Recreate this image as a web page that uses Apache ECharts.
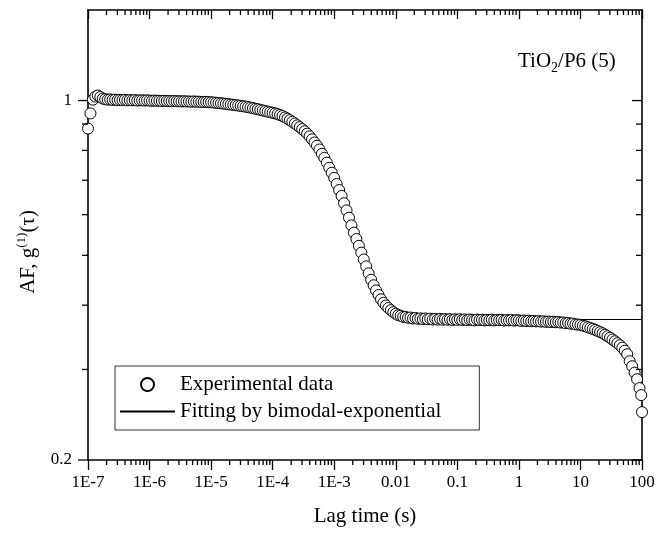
<!DOCTYPE html>
<html>
<head>
<meta charset="utf-8">
<script src="https://cdn.jsdelivr.net/npm/echarts@6/dist/echarts.min.js"></script>
<style>
  html, body { margin: 0; padding: 0; background: #fff; }
  #chart { width: 656px; height: 534px; }
</style>
</head>
<body>
<div id="chart"></div>
<script>
// Correlator lag times (s), one decade per row
const lagTime = [
  1.000e-7, 1.096e-7, 1.202e-7, 1.318e-7, 1.445e-7, 1.585e-7, 1.738e-7, 1.905e-7, 2.089e-7, 2.291e-7, 2.512e-7, 2.754e-7, 3.020e-7, 3.311e-7, 3.631e-7, 3.981e-7, 4.365e-7, 4.786e-7, 5.248e-7, 5.754e-7, 6.310e-7, 6.918e-7, 7.586e-7, 8.318e-7, 9.120e-7,
  1.000e-6, 1.096e-6, 1.202e-6, 1.318e-6, 1.445e-6, 1.585e-6, 1.738e-6, 1.905e-6, 2.089e-6, 2.291e-6, 2.512e-6, 2.754e-6, 3.020e-6, 3.311e-6, 3.631e-6, 3.981e-6, 4.365e-6, 4.786e-6, 5.248e-6, 5.754e-6, 6.310e-6, 6.918e-6, 7.586e-6, 8.318e-6, 9.120e-6,
  1.000e-5, 1.096e-5, 1.202e-5, 1.318e-5, 1.445e-5, 1.585e-5, 1.738e-5, 1.905e-5, 2.089e-5, 2.291e-5, 2.512e-5, 2.754e-5, 3.020e-5, 3.311e-5, 3.631e-5, 3.981e-5, 4.365e-5, 4.786e-5, 5.248e-5, 5.754e-5, 6.310e-5, 6.918e-5, 7.586e-5, 8.318e-5, 9.120e-5,
  1.000e-4, 1.096e-4, 1.202e-4, 1.318e-4, 1.445e-4, 1.585e-4, 1.738e-4, 1.905e-4, 2.089e-4, 2.291e-4, 2.512e-4, 2.754e-4, 3.020e-4, 3.311e-4, 3.631e-4, 3.981e-4, 4.365e-4, 4.786e-4, 5.248e-4, 5.754e-4, 6.310e-4, 6.918e-4, 7.586e-4, 8.318e-4, 9.120e-4,
  1.000e-3, 1.096e-3, 1.202e-3, 1.318e-3, 1.445e-3, 1.585e-3, 1.738e-3, 1.905e-3, 2.089e-3, 2.291e-3, 2.512e-3, 2.754e-3, 3.020e-3, 3.311e-3, 3.631e-3, 3.981e-3, 4.365e-3, 4.786e-3, 5.248e-3, 5.754e-3, 6.310e-3, 6.918e-3, 7.586e-3, 8.318e-3, 9.120e-3,
  1.000e-2, 1.096e-2, 1.202e-2, 1.318e-2, 1.445e-2, 1.585e-2, 1.738e-2, 1.905e-2, 2.089e-2, 2.291e-2, 2.512e-2, 2.754e-2, 3.020e-2, 3.311e-2, 3.631e-2, 3.981e-2, 4.365e-2, 4.786e-2, 5.248e-2, 5.754e-2, 6.310e-2, 6.918e-2, 7.586e-2, 8.318e-2, 9.120e-2,
  1.000e-1, 1.096e-1, 1.202e-1, 1.318e-1, 1.445e-1, 1.585e-1, 1.738e-1, 1.905e-1, 2.089e-1, 2.291e-1, 2.512e-1, 2.754e-1, 3.020e-1, 3.311e-1, 3.631e-1, 3.981e-1, 4.365e-1, 4.786e-1, 5.248e-1, 5.754e-1, 6.310e-1, 6.918e-1, 7.586e-1, 8.318e-1, 9.120e-1,
  1.000, 1.096, 1.202, 1.318, 1.445, 1.585, 1.738, 1.905, 2.089, 2.291, 2.512, 2.754, 3.020, 3.311, 3.631, 3.981, 4.365, 4.786, 5.248, 5.754, 6.310, 6.918, 7.586, 8.318, 9.120,
  10.00, 10.96, 12.02, 13.18, 14.45, 15.85, 17.38, 19.05, 20.89, 22.91, 25.12, 27.54, 30.20, 33.11, 36.31, 39.81, 43.65, 47.86, 52.48, 57.54, 63.10, 69.18, 75.86, 83.18, 91.20, 97.0, 100
];

// Measured field autocorrelation g(1)(tau), same layout as lagTime
const g1Measured = [
  0.882, 0.944, 1.004, 1.018, 1.023, 1.016, 1.009, 1.006, 1.004, 1.005, 1.003, 1.004, 1.002, 1.003, 1.002, 1.003, 1.001, 1.002, 1.001, 1.002, 1.000, 1.001, 1.001, 1.000, 1.001,
  1.000, 0.999, 1.000, 0.999, 0.999, 0.998, 0.999, 0.998, 0.998, 0.997, 0.998, 0.997, 0.997, 0.996, 0.997, 0.996, 0.996, 0.995, 0.996, 0.995, 0.995, 0.994, 0.994, 0.994, 0.993,
  0.9924, 0.9913, 0.9902, 0.9891, 0.9880, 0.9867, 0.9854, 0.9840, 0.9823, 0.9810, 0.9796, 0.9781, 0.9766, 0.9748, 0.9731, 0.9709, 0.9688, 0.9666, 0.9640, 0.9619, 0.9593, 0.9567, 0.9541, 0.9516, 0.9490,
  0.9469, 0.9442, 0.9410, 0.9372, 0.9330, 0.9276, 0.9221, 0.9159, 0.9092, 0.9023, 0.8950, 0.8877, 0.8800, 0.8717, 0.8624, 0.8521, 0.8407, 0.8288, 0.8170, 0.8033, 0.7880, 0.7737, 0.7572, 0.7402, 0.7238,
  0.7072, 0.6884, 0.6699, 0.6525, 0.6315, 0.6115, 0.5919, 0.5718, 0.5535, 0.5379, 0.5218, 0.5061, 0.4908, 0.4761, 0.4614, 0.4482, 0.4373, 0.4274, 0.4186, 0.4108, 0.4044, 0.3995, 0.3949, 0.3912, 0.3877,
  0.3850, 0.3825, 0.3815, 0.3796, 0.3795, 0.3781, 0.3785, 0.3769, 0.3777, 0.3763, 0.3771, 0.3758, 0.3769, 0.3756, 0.3766, 0.3752, 0.3763, 0.3750, 0.3761, 0.3749, 0.3759, 0.3747, 0.3757, 0.3745, 0.3755,
  0.3746, 0.3757, 0.3744, 0.3753, 0.3741, 0.3752, 0.3745, 0.3737, 0.3750, 0.3742, 0.3748, 0.3738, 0.3746, 0.3740, 0.3749, 0.3736, 0.3744, 0.3739, 0.3746, 0.3734, 0.3742, 0.3737, 0.3743, 0.3733, 0.3740,
  0.3737, 0.3728, 0.3735, 0.3726, 0.3732, 0.3723, 0.3728, 0.3720, 0.3725, 0.3716, 0.3722, 0.3713, 0.3718, 0.3710, 0.3715, 0.3706, 0.3710, 0.3700, 0.3703, 0.3691, 0.3693, 0.3682, 0.3684, 0.3671, 0.3668,
  0.3662, 0.3650, 0.3639, 0.3624, 0.3611, 0.3598, 0.3582, 0.3563, 0.3546, 0.3528, 0.3506, 0.3481, 0.3457, 0.3430, 0.3404, 0.3374, 0.3344, 0.3307, 0.3263, 0.3212, 0.3113, 0.3044, 0.2957, 0.2872, 0.2759, 0.2674, 0.2478
];

// Bimodal-exponential fit curve
const fitTime = [1e-7, 1e-6, 1e-5, 3.02e-5, 1e-4, 1.445e-4, 2.089e-4, 3.02e-4, 4.365e-4, 5.248e-4, 6.31e-4, 7.586e-4, 9.12e-4,
  1e-3, 1.202e-3, 1.445e-3, 1.738e-3, 2.089e-3, 2.512e-3, 3.02e-3, 3.631e-3, 4.365e-3, 5.248e-3, 6.31e-3, 7.586e-3, 9.12e-3,
  1e-2, 1.202e-2, 1.445e-2, 1.738e-2, 2.512e-2, 4.365e-2, 0.1, 1, 10, 100];
const fitG = [1.000, 0.9995, 0.9924, 0.9766, 0.9469, 0.9330, 0.9092, 0.8800, 0.8407, 0.8170, 0.7880, 0.7572, 0.7238,
  0.7072, 0.6699, 0.6315, 0.5919, 0.5535, 0.5218, 0.4908, 0.4614, 0.4373, 0.4186, 0.4044, 0.3949, 0.3877,
  0.3850, 0.3812, 0.3792, 0.3780, 0.3768, 0.3760, 0.3757, 0.3753, 0.3752, 0.3752];

// Axis ticks and labels
const xTickValues = [1e-7, 1e-6, 1e-5, 1e-4, 1e-3, 0.01, 0.1, 1, 10, 100];
const xTickLabels = ['1E-7', '1E-6', '1E-5', '1E-4', '1E-3', '0.01', '0.1', '1', '10', '100'];
const yTickValues = [0.2, 1];
const yTickLabels = ['0.2', '1'];
const yMinorTicks = [0.3, 0.4, 0.5, 0.6, 0.7, 0.8, 0.9];
const minorSteps = [2, 3, 4, 5, 6, 7, 8, 9];

const X_MIN = 1e-7, X_MAX = 100, Y_MIN = 0.2, Y_MAX = 1.5;
const FONT = '"Liberation Serif", "Times New Roman", serif';
const INK = '#000';

function sameLog(a, b) { return Math.abs(Math.log10(a) - Math.log10(b)) < 1e-6; }
function labelFor(v, values, labels) {
  for (let i = 0; i < values.length; i++) if (sameLog(v, values[i])) return labels[i];
  return '';
}

// Minor ticks of the log x axis (2..9 within every decade)
const xMinorTicks = [];
xTickValues.slice(0, -1).forEach(d => minorSteps.forEach(s => xMinorTicks.push(d * s)));

const measured = lagTime.map((t, i) => [t, g1Measured[i]]);
const fitted = fitTime.map((t, i) => [t, fitG[i]]);

const tickStyle = { stroke: INK, lineWidth: 1.3 };

const chart = echarts.init(document.getElementById('chart'), null, { renderer: 'canvas' });

const baseXAxis = {
  type: 'log', logBase: 10, min: X_MIN, max: X_MAX,
  splitLine: { show: false }, minorTick: { show: false },
  axisLine: { show: true, onZero: false, lineStyle: { color: INK, width: 1.6 } }
};
const baseYAxis = {
  type: 'log', logBase: 10, min: Y_MIN, max: Y_MAX,
  splitLine: { show: false }, minorTick: { show: false },
  axisTick: { show: false },
  axisLine: { show: true, onZero: false, lineStyle: { color: INK, width: 1.6 } }
};

const option = {
  animation: false,
  backgroundColor: '#fff',
  textStyle: { fontFamily: FONT, color: INK },
  grid: { left: 88, right: 14, top: 10, bottom: 74, containLabel: false, outerBoundsMode: 'none' },
  legend: {
    orient: 'vertical', left: 115, top: 366,
    itemWidth: 55, itemHeight: 13, itemGap: 6,
    padding: [8, 38, 8, 4],
    borderColor: '#333', borderWidth: 1,
    selectedMode: false,
    textStyle: { fontFamily: FONT, fontSize: 21, color: INK },
    data: ['Experimental data', 'Fitting by bimodal-exponential']
  },
  xAxis: [
    Object.assign({}, baseXAxis, {
      position: 'bottom',
      axisTick: { show: true, inside: false, length: 10, lineStyle: { color: INK, width: 1.3 } },
      axisLabel: {
        show: true, margin: 14, fontFamily: FONT, fontSize: 17, color: INK,
        formatter: v => labelFor(v, xTickValues, xTickLabels)
      },
      name: 'Lag time (s)', nameLocation: 'middle', nameGap: 46,
      nameTextStyle: { fontFamily: FONT, fontSize: 21, color: INK }
    }),
    Object.assign({}, baseXAxis, {
      position: 'top',
      axisTick: { show: true, inside: true, length: 9, lineStyle: { color: INK, width: 1.3 } },
      axisLabel: { show: false }
    })
  ],
  yAxis: [
    Object.assign({}, baseYAxis, {
      position: 'left',
      axisLabel: {
        show: true, margin: 16, fontFamily: FONT, fontSize: 17, color: INK,
        showMinLabel: true, showMaxLabel: true,
        formatter: v => labelFor(v, yTickValues, yTickLabels)
      }
    }),
    Object.assign({}, baseYAxis, {
      position: 'right',
      axisLabel: { show: false }
    })
  ],
  graphic: [
    {
      type: 'text', x: 27, y: 252, rotation: Math.PI / 2, z: 10,
      style: {
        text: '{b|AF, g}{s|(1)}{b|(τ)}',
        align: 'center', verticalAlign: 'middle', fill: INK,
        rich: {
          b: { fontFamily: FONT, fontSize: 21, lineHeight: 24, verticalAlign: 'bottom', fill: INK },
          s: { fontFamily: FONT, fontSize: 13, lineHeight: 13, verticalAlign: 'top', fill: INK }
        }
      }
    },
    {
      type: 'text', x: 518, y: 62, z: 10,
      style: {
        text: '{b|TiO}{s|2}{b|/P6 (5)}',
        align: 'left', verticalAlign: 'middle', fill: INK,
        rich: {
          b: { fontFamily: FONT, fontSize: 21, lineHeight: 22, verticalAlign: 'top', fill: INK },
          s: { fontFamily: FONT, fontSize: 14, lineHeight: 14, padding: [10, 0, 0, 0], verticalAlign: 'top', fill: INK }
        }
      }
    }
  ],
  series: [
    {
      name: 'Fitting by bimodal-exponential',
      type: 'line', xAxisIndex: 0, yAxisIndex: 0,
      data: fitted, symbol: 'none', smooth: false, z: 1,
      lineStyle: { color: INK, width: 1 },
      // the fit has no markers, so keep the legend marker invisible too
      itemStyle: { color: 'rgba(0,0,0,0)', borderColor: 'rgba(0,0,0,0)', borderWidth: 0 }
    },
    {
      name: 'Experimental data',
      type: 'scatter', xAxisIndex: 0, yAxisIndex: 0,
      data: measured, symbol: 'circle', symbolSize: 11, z: 3,
      itemStyle: { color: '#fff', borderColor: INK, borderWidth: 1, opacity: 1 }
    },
    {
      // minor ticks along the bottom (outward) and top (inward) frame
      type: 'custom', xAxisIndex: 0, yAxisIndex: 0, silent: true, z: 6,
      data: xMinorTicks.map(t => [t, Y_MIN]),
      renderItem: function (params, api) {
        const cs = params.coordSys;
        const x = api.coord([api.value(0), Y_MIN])[0];
        const yb = cs.y + cs.height;
        return {
          type: 'group', children: [
            { type: 'line', shape: { x1: x, y1: yb, x2: x, y2: yb + 5 }, style: tickStyle },
            { type: 'line', shape: { x1: x, y1: cs.y, x2: x, y2: cs.y + 5 }, style: tickStyle }
          ]
        };
      }
    },
    {
      // ticks along the left (outward) and right (inward) frame
      type: 'custom', xAxisIndex: 0, yAxisIndex: 0, silent: true, z: 6,
      data: yTickValues.concat(yMinorTicks).map(v => [X_MIN, v]),
      renderItem: function (params, api) {
        const cs = params.coordSys;
        const v = api.value(1);
        const y = api.coord([X_MIN, v])[1];
        const major = yTickValues.some(m => sameLog(m, v));
        const len = major ? 10 : 6;
        const xr = cs.x + cs.width;
        return {
          type: 'group', children: [
            { type: 'line', shape: { x1: cs.x - len, y1: y, x2: cs.x, y2: y }, style: tickStyle },
            { type: 'line', shape: { x1: xr - len, y1: y, x2: xr, y2: y }, style: tickStyle }
          ]
        };
      }
    }
  ]
};

chart.setOption(option);
</script>
</body>
</html>
